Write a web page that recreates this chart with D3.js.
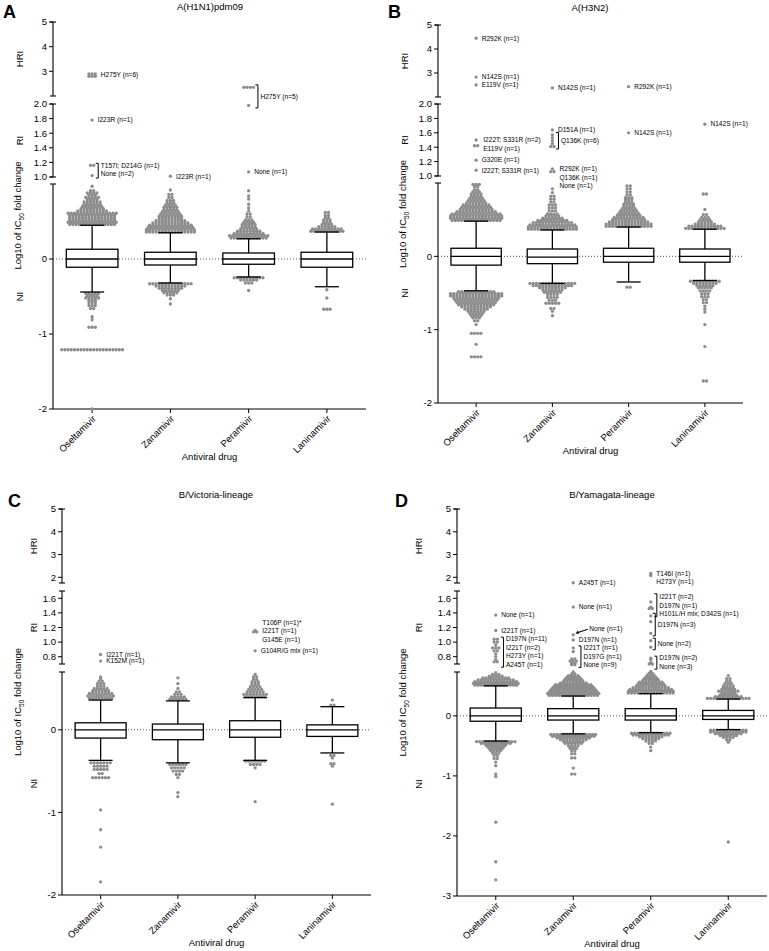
<!DOCTYPE html>
<html>
<head>
<meta charset="utf-8">
<script src="https://cdn.jsdelivr.net/npm/d3@7"></script>
<style>
  * { margin: 0; padding: 0; }
  body { background: #fff; }
  svg text { font-family: "Liberation Sans", Arial, sans-serif; }
</style>
</head>
<body>
<svg id="fig" width="769" height="951"></svg>
<script>
// ---- data ----
var drugs = ["Oseltamivir", "Zanamivir", "Peramivir", "Laninamivir"];
var titles = ["A(H1N1)pdm09", "A(H3N2)", "B/Victoria-lineage", "B/Yamagata-lineage"];
var letters = ["A", "B", "C", "D"];

// tick labels per segment
var hriTicksAB = [3, 4, 5], hriTicksCD = [2, 3, 4, 5];
var riTicksAB = [1.0, 1.2, 1.4, 1.6, 1.8, 2.0], riTicksCD = [0.8, 1.0, 1.2, 1.4, 1.6];
var lowTicksABC = [-2, -1, 0], lowTicksD = [-3, -2, -1, 0];

// boxes: [q1, median, q3, whisker low, whisker high] per drug
var boxA = [[-0.11, 0, 0.13, -0.44, 0.45], [-0.08, 0, 0.09, -0.32, 0.35], [-0.07, 0, 0.08, -0.24, 0.27], [-0.11, 0, 0.09, -0.37, 0.36]];
var boxB = [[-0.12, 0, 0.11, -0.47, 0.48], [-0.10, -0.01, 0.10, -0.37, 0.36], [-0.08, 0, 0.11, -0.35, 0.40], [-0.08, 0, 0.10, -0.33, 0.37]];
var boxC = [[-0.10, 0, 0.085, -0.37, 0.36], [-0.12, 0, 0.07, -0.40, 0.35], [-0.09, 0, 0.11, -0.37, 0.39], [-0.08, 0, 0.06, -0.28, 0.28]];
var boxD = [[-0.09, 0, 0.13, -0.42, 0.50], [-0.07, 0, 0.12, -0.30, 0.33], [-0.07, 0, 0.12, -0.28, 0.37], [-0.06, 0, 0.09, -0.23, 0.28]];

// outlier dots in the NI part, rows of [value, count] per drug
var upA = [
  [[0.46,15],[0.49,16],[0.52,15],[0.55,15],[0.58,15],[0.61,16],[0.64,10],[0.67,8],[0.70,7],[0.73,6],[0.76,6],[0.79,4],[0.82,5],[0.85,3],[0.88,4],[0.91,2],[0.97,1]],
  [[0.36,16],[0.39,16],[0.42,15],[0.45,14],[0.48,12],[0.51,10],[0.54,8],[0.57,8],[0.60,7],[0.63,6],[0.66,5],[0.69,5],[0.72,4],[0.75,3],[0.78,3],[0.82,2],[0.86,2],[0.92,1]],
  [[0.28,12],[0.31,13],[0.34,10],[0.37,8],[0.40,6],[0.43,5],[0.46,5],[0.49,4],[0.52,3],[0.56,2],[0.60,2],[0.64,1],[0.68,1],[0.73,1],[0.80,1],[0.84,1],[0.91,1]],
  [[0.37,11],[0.40,10],[0.43,6],[0.46,4],[0.49,3],[0.52,3],[0.55,2],[0.58,2],[0.62,2]]
];
var lowA = [
  [[-0.46,5],[-0.49,4],[-0.52,5],[-0.55,3],[-0.58,3],[-0.62,3],[-0.66,2],[-0.77,1],[-0.81,1],[-0.91,3],[-1.21,20],[-2.0,1]],
  [[-0.33,14],[-0.36,10],[-0.39,8],[-0.42,6],[-0.45,5],[-0.48,3],[-0.53,1],[-0.60,1]],
  [[-0.25,10],[-0.28,6],[-0.32,3],[-0.42,1]],
  [[-0.41,1],[-0.52,1],[-0.67,3]]
];
var upB = [
  [[0.49,16],[0.52,17],[0.55,17],[0.58,16],[0.61,13],[0.64,11],[0.67,10],[0.70,9],[0.73,7],[0.76,6],[0.79,5],[0.82,4],[0.85,4],[0.88,3],[0.91,2],[0.95,2],[0.98,3]],
  [[0.37,16],[0.40,16],[0.43,15],[0.46,13],[0.49,10],[0.52,7],[0.55,5],[0.58,4],[0.62,3],[0.66,3],[0.70,3],[0.74,2],[0.78,2],[0.82,2],[0.87,1],[0.92,1]],
  [[0.41,15],[0.44,15],[0.47,13],[0.50,11],[0.53,10],[0.56,8],[0.59,7],[0.62,6],[0.65,5],[0.68,4],[0.71,4],[0.74,3],[0.77,3],[0.80,3],[0.84,2],[0.88,2],[0.92,2],[0.96,2]],
  [[0.38,13],[0.41,11],[0.44,7],[0.47,5],[0.50,4],[0.53,3],[0.57,2],[0.64,1],[0.85,2]]
];
var lowB = [
  [[-0.48,12],[-0.51,17],[-0.54,17],[-0.57,15],[-0.60,14],[-0.63,13],[-0.66,12],[-0.69,10],[-0.72,8],[-0.75,6],[-0.78,5],[-0.81,4],[-0.84,3],[-0.88,2],[-0.93,1],[-1.05,4],[-1.2,1],[-1.37,4]],
  [[-0.37,15],[-0.40,13],[-0.43,9],[-0.46,7],[-0.49,6],[-0.52,4],[-0.56,4],[-0.60,3],[-0.64,5],[-0.71,2],[-0.75,1],[-0.81,1]],
  [[-0.42,2]],
  [[-0.34,10],[-0.37,8],[-0.40,6],[-0.43,5],[-0.47,4],[-0.51,3],[-0.55,3],[-0.59,2],[-0.63,2],[-0.68,1],[-0.72,1],[-0.76,1],[-0.93,1],[-1.23,1],[-1.7,2]]
];
var upC = [
  [[0.38,8],[0.41,9],[0.44,8],[0.47,6],[0.50,5],[0.53,3],[0.56,3],[0.59,2],[0.62,1],[0.64,1]],
  [[0.37,6],[0.40,5],[0.43,3],[0.46,2],[0.50,1],[0.56,1],[0.63,1]],
  [[0.40,7],[0.43,8],[0.46,6],[0.49,5],[0.52,4],[0.55,3],[0.58,3],[0.61,2],[0.64,2],[0.67,1]],
  [[0.30,2],[0.36,1]]
];
var lowC = [
  [[-0.40,7],[-0.44,5],[-0.48,5],[-0.53,2],[-0.58,6],[-0.97,1],[-1.21,1],[-1.42,1],[-1.84,1]],
  [[-0.42,6],[-0.46,5],[-0.50,4],[-0.54,2],[-0.58,1],[-0.76,1],[-0.81,1]],
  [[-0.38,7],[-0.42,4],[-0.46,1],[-0.87,1]],
  [[-0.31,2],[-0.34,1],[-0.41,2],[-0.44,1],[-0.90,1]]
];
var upD = [
  [[0.51,14],[0.54,15],[0.57,14],[0.60,12],[0.63,9],[0.66,5],[0.69,3],[0.72,1]],
  [[0.34,16],[0.37,17],[0.40,16],[0.43,15],[0.46,14],[0.49,13],[0.52,12],[0.55,9],[0.58,7],[0.61,6],[0.64,5],[0.67,4],[0.70,2],[0.73,1]],
  [[0.38,15],[0.41,15],[0.44,14],[0.47,12],[0.50,10],[0.53,9],[0.56,8],[0.59,6],[0.62,5],[0.65,4],[0.68,3],[0.71,2],[0.74,1]],
  [[0.29,14],[0.32,9],[0.35,6],[0.38,5],[0.41,7],[0.44,5],[0.47,4],[0.50,4],[0.54,3],[0.58,2],[0.62,2],[0.67,1]]
];
var lowD = [
  [[-0.43,13],[-0.46,10],[-0.49,7],[-0.52,6],[-0.55,5],[-0.58,4],[-0.62,3],[-0.66,2],[-0.71,2],[-0.77,1],[-0.83,1],[-0.97,1],[-1.01,1],[-1.77,1],[-2.43,1],[-2.73,1]],
  [[-0.31,15],[-0.34,14],[-0.37,11],[-0.40,9],[-0.43,7],[-0.46,6],[-0.50,4],[-0.54,3],[-0.58,2],[-0.63,2],[-0.70,2],[-0.87,1],[-0.97,2]],
  [[-0.29,13],[-0.32,12],[-0.35,8],[-0.38,6],[-0.42,4],[-0.46,2],[-0.52,1],[-0.58,1]],
  [[-0.24,12],[-0.27,12],[-0.30,9],[-0.33,6],[-0.36,4],[-0.40,2],[-0.44,1],[-2.1,1]]
];

// annotated RI / HRI isolates: rows of [segment, value, count]
var noteA = [
  {d: 0, rows: [["hri", 2.9, 3], ["hri", 2.8, 3]], labels: ["H275Y (n=6)"]},
  {d: 0, rows: [["ri", 1.78, 1]], labels: ["I223R (n=1)"]},
  {d: 0, rows: [["ri", 1.16, 2], ["ri", 1.02, 1]], labels: ["T157I; D214G (n=1)", "None (n=2)"], bracket: true},
  {d: 1, rows: [["ri", 1.01, 1]], labels: ["I223R (n=1)"]},
  {d: 2, rows: [["hri", 2.35, 4], ["ri", 1.98, 1]], labels: ["H275Y (n=5)"], bracket: true},
  {d: 2, rows: [["ri", 1.07, 1]], labels: ["None (n=1)"]}
];
var noteB = [
  {d: 0, rows: [["hri", 4.45, 1]], labels: ["R292K (n=1)"]},
  {d: 0, rows: [["hri", 2.83, 1]], labels: ["N142S (n=1)"]},
  {d: 0, rows: [["hri", 2.5, 1]], labels: ["E119V (n=1)"]},
  {d: 0, rows: [["ri", 1.5, 1], ["ri", 1.42, 2]], labels: ["I222T; S331R (n=2)", "E119V (n=1)"]},
  {d: 0, rows: [["ri", 1.22, 1]], labels: ["G320E (n=1)"]},
  {d: 0, rows: [["ri", 1.08, 1]], labels: ["I222T; S331R (n=1)"]},
  {d: 1, rows: [["hri", 2.38, 1]], labels: ["N142S (n=1)"]},
  {d: 1, rows: [["ri", 1.64, 1]], labels: ["D151A (n=1)"]},
  {d: 1, rows: [["ri", 1.57, 1], ["ri", 1.53, 1], ["ri", 1.49, 1], ["ri", 1.45, 1], ["ri", 1.41, 2]], labels: ["Q136K (n=6)"], bracket: true},
  {d: 1, rows: [["ri", 1.1, 1], ["ri", 1.06, 2]], labels: ["R292K (n=1)", "Q136K (n=1)", "None (n=1)"]},
  {d: 2, rows: [["hri", 2.43, 1]], labels: ["R292K (n=1)"]},
  {d: 2, rows: [["ri", 1.6, 1]], labels: ["N142S (n=1)"]},
  {d: 3, rows: [["ri", 1.72, 1]], labels: ["N142S (n=1)"]}
];
var noteC = [
  {d: 0, rows: [["ri", 0.83, 1]], labels: ["I221T (n=1)"]},
  {d: 0, rows: [["ri", 0.74, 1]], labels: ["K152M (n=1)"]},
  {d: 2, rows: [["ri", 1.16, 1], ["ri", 1.14, 2]], labels: ["T106P (n=1)*", "I221T (n=1)", "G145E (n=1)"], mid: true},
  {d: 2, rows: [["ri", 0.88, 1]], labels: ["G104R/G mix (n=1)"]}
];
var noteD = [
  {d: 0, rows: [["ri", 1.37, 1]], labels: ["None (n=1)"]},
  {d: 0, rows: [["ri", 1.16, 1]], labels: ["I221T (n=1)"]},
  {d: 0, rows: [["ri", 1.04, 2], ["ri", 1.0, 2], ["ri", 0.96, 1], ["ri", 0.92, 3], ["ri", 0.88, 2], ["ri", 0.84, 1], ["ri", 0.8, 1], ["ri", 0.76, 1], ["ri", 0.73, 2]],
    labels: ["D197N (n=11)", "I221T (n=2)", "H273Y (n=1)", "A245T (n=1)"], bracket: true},
  {d: 1, rows: [["hri", 1.76, 1]], labels: ["A245T (n=1)"]},
  {d: 1, rows: [["ri", 1.48, 1]], labels: ["None (n=1)"]},
  {d: 1, rows: [["ri", 1.1, 1]], labels: ["None (n=1)"], arrow: true},
  {d: 1, rows: [["ri", 1.03, 1]], labels: ["D197N (n=1)"]},
  {d: 1, rows: [["ri", 0.92, 1], ["ri", 0.87, 1], ["ri", 0.77, 2], ["ri", 0.74, 3], ["ri", 0.71, 2], ["ri", 0.69, 2]],
    labels: ["I221T (n=1)", "D197G (n=1)", "None (n=9)"], bracket: true},
  {d: 2, rows: [["hri", 2.17, 1], ["hri", 2.08, 1]], labels: ["T146I (n=1)", "H273Y (n=1)"]},
  {d: 2, rows: [["ri", 1.55, 1], ["ri", 1.48, 1], ["ri", 1.46, 2]], labels: ["I221T (n=2)", "D197N (n=1)", "H101L/H mix; D342S (n=1)"], bracket: true, mid: true},
  {d: 2, rows: [["ri", 1.36, 1], ["ri", 1.28, 1], ["ri", 1.12, 1]], labels: ["D197N (n=3)"], bracket: true},
  {d: 2, rows: [["ri", 1.02, 1], ["ri", 0.93, 1]], labels: ["None (n=2)"], bracket: true},
  {d: 2, rows: [["ri", 0.78, 1], ["ri", 0.76, 1], ["ri", 0.72, 1], ["ri", 0.70, 2]], labels: ["D197N (n=2)", "None (n=3)"], bracket: true}
];

// ---- layout of the four panels ----
var panels = [
  {box: boxA, up: upA, low: lowA, notes: noteA, x0: 53, x1: 366,
   hri: [[2, 5], [96, 22]], ri: [[1, 2], [177, 104]], lo: [[-2, 1], [409, 184]],
   hriT: hriTicksAB, riT: riTicksAB, loT: lowTicksABC,
   letterX: 3, letterY: 18, titleX: 210, titleY: 10, labX: 20, ytX: 18},
  {box: boxB, up: upB, low: lowB, notes: noteB, x0: 438, x1: 743,
   hri: [[2, 5], [97, 25]], ri: [[1, 2], [176, 104]], lo: [[-2, 1], [403, 183]],
   hriT: hriTicksAB, riT: riTicksAB, loT: lowTicksABC,
   letterX: 388, letterY: 18, titleX: 590, titleY: 11, labX: 405, ytX: 403},
  {box: boxC, up: upC, low: lowC, notes: noteC, x0: 62, x1: 371,
   hri: [[1.75, 5], [583, 509]], ri: [[0.7, 1.7], [664, 591]], lo: [[-2, 0.7], [895, 672]],
   hriT: hriTicksCD, riT: riTicksCD, loT: lowTicksABC,
   letterX: 8, letterY: 507, titleX: 216, titleY: 498, labX: 34, ytX: 18},
  {box: boxD, up: upD, low: lowD, notes: noteD, x0: 457, x1: 767,
   hri: [[1.75, 5], [583, 509]], ri: [[0.7, 1.7], [664, 591]], lo: [[-3, 0.73], [896, 672]],
   hriT: hriTicksCD, riT: riTicksCD, loT: lowTicksD,
   letterX: 395, letterY: 507, titleX: 612, titleY: 498, labX: 419, ytX: 403}
];

var svg = d3.select("#fig");
var dotColor = "#8c8c8c", step = 3.2, rDot = 1.65;

function swarm(g, rows, cx, y) {
  var pts = [];
  rows.forEach(function (r) {
    for (var i = 0; i < r[1]; i++) {
      pts.push({x: cx + (i - (r[1] - 1) / 2) * step, y: y(r[0])});
    }
  });
  g.selectAll(null).data(pts).enter().append("circle")
    .attr("cx", function (d) { return d.x; })
    .attr("cy", function (d) { return d.y; })
    .attr("r", rDot)
    .attr("fill", dotColor);
}

panels.forEach(function (p, pi) {
  var g = svg.append("g");
  var x = d3.scaleBand().domain(drugs).range([p.x0, p.x1]);
  var bw = x.bandwidth();
  var cx = function (i) { return x(drugs[i]) + bw / 2; };
  var ys = {
    hri: d3.scaleLinear().domain(p.hri[0]).range(p.hri[1]),
    ri: d3.scaleLinear().domain(p.ri[0]).range(p.ri[1]),
    lo: d3.scaleLinear().domain(p.lo[0]).range(p.lo[1])
  };
  var yb = p.lo[1][0];

  // letter and title
  g.append("text").attr("x", p.letterX).attr("y", p.letterY)
    .style("font-size", "18px").style("font-weight", "bold").text(letters[pi]);
  g.append("text").attr("x", p.titleX).attr("y", p.titleY).attr("text-anchor", "middle")
    .style("font-size", "9.5px").text(titles[pi]);

  // y axis segments
  var segs = [["hri", p.hriT, function (v) { return String(v); }],
              ["ri", p.riT, d3.format(".1f")],
              ["lo", p.loT, function (v) { return String(v); }]];
  segs.forEach(function (s) {
    var sc = ys[s[0]], r = sc.range();
    var ax = g.append("g").attr("transform", "translate(" + p.x0 + ",0)");
    ax.append("line").attr("x1", 0).attr("x2", 0).attr("y1", r[0]).attr("y2", r[1])
      .attr("stroke", "#000").attr("stroke-width", 1.1);
    if (s[0] !== "lo") {
      ax.append("line").attr("x1", -3).attr("x2", 3).attr("y1", r[0]).attr("y2", r[0])
        .attr("stroke", "#000").attr("stroke-width", 1.1);
    }
    ax.append("line").attr("x1", -3).attr("x2", 3).attr("y1", r[1]).attr("y2", r[1])
      .attr("stroke", "#000").attr("stroke-width", 1.1);
    var tk = ax.selectAll(null).data(s[1]).enter().append("g")
      .attr("transform", function (d) { return "translate(0," + sc(d) + ")"; });
    tk.append("line").attr("x1", -4).attr("x2", 0).attr("stroke", "#000").attr("stroke-width", 1);
    tk.append("text").attr("x", -6).attr("dy", "0.35em").attr("text-anchor", "end")
      .style("font-size", "9.5px").text(s[2]);
  });

  // x axis
  g.append("line").attr("x1", p.x0).attr("x2", p.x1).attr("y1", yb).attr("y2", yb)
    .attr("stroke", "#000").attr("stroke-width", 1.1);
  var xt = g.selectAll(null).data(drugs).enter().append("g")
    .attr("transform", function (d) { return "translate(" + (x(d) + bw / 2) + "," + yb + ")"; });
  xt.append("line").attr("y1", 0).attr("y2", 4).attr("stroke", "#000");
  xt.append("text").attr("transform", "translate(2,8) rotate(-45)").attr("text-anchor", "end")
    .attr("dy", "0.35em").style("font-size", "9.5px").text(function (d) { return d; });
  g.append("text").attr("x", (p.x0 + p.x1) / 2).attr("y", yb + 51).attr("text-anchor", "middle")
    .style("font-size", "9.5px").text("Antiviral drug");

  // axis titles
  var yTop = p.hri[1][1];
  var yt = g.append("text").attr("transform", "translate(" + p.ytX + "," + ((yTop + yb) / 2) + ") rotate(-90)")
    .attr("text-anchor", "middle").attr("dy", "0.35em").style("font-size", "9.5px");
  yt.append("tspan").text("Log10 of IC");
  yt.append("tspan").attr("dy", "2.5").style("font-size", "6.5px").text("50");
  yt.append("tspan").attr("dy", "-2.5").text(" fold change");
  [["HRI", p.hri[1]], ["RI", p.ri[1]], ["NI", p.lo[1]]].forEach(function (l) {
    g.append("text").attr("transform", "translate(" + p.labX + "," + ((l[1][0] + l[1][1]) / 2) + ") rotate(-90)")
      .attr("text-anchor", "middle").attr("dy", "0.35em").style("font-size", "9.5px").text(l[0]);
  });

  // zero line
  g.append("line").attr("x1", p.x0).attr("x2", p.x1).attr("y1", ys.lo(0)).attr("y2", ys.lo(0))
    .attr("stroke", "#444").attr("stroke-width", 0.9).attr("stroke-dasharray", "1,2");

  // dots outside whiskers
  var dg = g.append("g");
  p.up.forEach(function (rows, i) { swarm(dg, rows, cx(i), ys.lo); });
  p.low.forEach(function (rows, i) { swarm(dg, rows, cx(i), ys.lo); });

  // boxes and whiskers
  var bwid = bw * 0.66, cap = 24;
  p.box.forEach(function (b, i) {
    var c = cx(i), y = ys.lo;
    var bg = g.append("g").attr("stroke", "#000").attr("stroke-width", 1.3);
    bg.append("line").attr("x1", c).attr("x2", c).attr("y1", y(b[2])).attr("y2", y(b[4]));
    bg.append("line").attr("x1", c).attr("x2", c).attr("y1", y(b[0])).attr("y2", y(b[3]));
    bg.append("line").attr("x1", c - cap / 2).attr("x2", c + cap / 2).attr("y1", y(b[4])).attr("y2", y(b[4]));
    bg.append("line").attr("x1", c - cap / 2).attr("x2", c + cap / 2).attr("y1", y(b[3])).attr("y2", y(b[3]));
    bg.append("rect").attr("x", c - bwid / 2).attr("width", bwid)
      .attr("y", y(b[2])).attr("height", y(b[0]) - y(b[2])).attr("fill", "#fff");
    bg.append("line").attr("x1", c - bwid / 2).attr("x2", c + bwid / 2).attr("y1", y(b[1])).attr("y2", y(b[1]));
  });

  // annotated isolates
  p.notes.forEach(function (n) {
    var c = cx(n.d), pts = [];
    n.rows.forEach(function (r) {
      for (var i = 0; i < r[2]; i++) pts.push({x: c + (i - (r[2] - 1) / 2) * step, y: ys[r[0]](r[1])});
    });
    g.selectAll(null).data(pts).enter().append("circle")
      .attr("cx", function (d) { return d.x; }).attr("cy", function (d) { return d.y; })
      .attr("r", rDot).attr("fill", dotColor);
    var ymin = d3.min(pts, function (d) { return d.y; }), ymax = d3.max(pts, function (d) { return d.y; });
    var xmax = d3.max(pts, function (d) { return d.x; });
    var tx = xmax + 5.5, lh = 8.5;
    var y0;
    if (n.labels.length === 1 || n.mid) y0 = (ymin + ymax) / 2 - (n.labels.length - 1) * lh / 2;
    else y0 = ymin;
    if (n.bracket) {
      var bx = xmax + 4.5;
      var top = n.labels.length > 1 && !n.mid ? ymin - 2 : Math.min(ymin, y0) - 2.5;
      var bot = Math.max(ymax, y0 + (n.labels.length - 1) * lh) + 2.5;
      if (n.labels.length > 1 && n.mid) { top = y0 - 3; bot = y0 + (n.labels.length - 1) * lh + 3; }
      g.append("path").attr("d", "M" + (bx - 2.5) + "," + top + "H" + bx + "V" + bot + "H" + (bx - 2.5))
        .attr("fill", "none").attr("stroke", "#000").attr("stroke-width", 1);
      tx = bx + 2.5;
    }
    if (n.arrow) {
      var dx = pts[0].x, dy = pts[0].y;
      tx = dx + 16; y0 = dy - 6;
      g.append("line").attr("x1", tx - 1.5).attr("y1", y0 + 0.5).attr("x2", dx + 4).attr("y2", dy - 2)
        .attr("stroke", "#000").attr("stroke-width", 1.2);
      g.append("path").attr("d", "M" + (dx + 2.2) + "," + (dy - 1) + "L" + (dx + 6) + "," + (dy - 1.2) + "L" + (dx + 4.6) + "," + (dy - 4.2) + "Z")
        .attr("fill", "#000");
    }
    g.selectAll(null).data(n.labels).enter().append("text")
      .attr("x", tx).attr("y", function (d, i) { return y0 + i * lh; })
      .attr("dy", "0.35em").style("font-size", "6.6px").text(function (d) { return d; });
  });
});
</script>
</body>
</html>
